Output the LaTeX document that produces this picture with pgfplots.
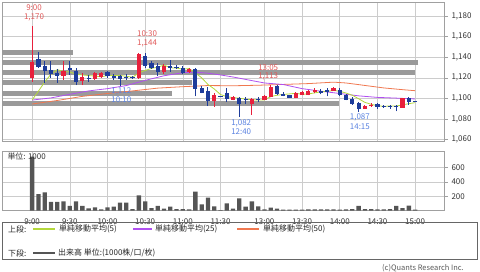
\documentclass[border=0pt]{standalone}
\usepackage{pgfplots}
\pgfplotsset{compat=1.18}
\usepackage{pgfplotstable}
\usepackage{fontspec}
\setmainfont{Noto Sans CJK JP}
\definecolor{cUp}{HTML}{E8203C}
\definecolor{cDn}{HTML}{1E3C9A}
\definecolor{cProf}{HTML}{9A9A9A}
\definecolor{cGrid}{HTML}{CCCCCC}
\definecolor{cAxis}{HTML}{A0A0A0}
\definecolor{cMA5}{HTML}{B4D83C}
\definecolor{cMA25}{HTML}{B050F0}
\definecolor{cMA50}{HTML}{F07850}
\definecolor{cVol}{HTML}{555555}
\definecolor{cLblR}{HTML}{E05858}
\definecolor{cLblB}{HTML}{5A82E0}
\newcommand\fs{\fontsize{8}{9.5}\selectfont}

% up (red) candles
\pgfplotstableread{
i o h l c
0 1120 1170 1116 1135.5
5 1122 1136 1118 1127
8 1117 1125 1113 1120.5
10 1119.5 1125.5 1118 1124.5
11 1121.7 1126 1120 1125
17 1120 1144 1119 1143
21 1126 1133 1124 1131
25 1126 1130 1125 1129
29 1098 1105 1092 1103
32 1099 1102 1098 1101.5
35 1095 1100 1084 1099
37 1099 1103 1098 1102
38 1102 1113 1101 1111
42 1100.5 1106 1100 1105
43 1103.5 1107 1103 1106
44 1104 1108 1103 1107
45 1106.5 1110 1105 1108
48 1107.5 1111 1107 1110.5
53 1090.5 1094 1090 1093
54 1093 1096 1092 1094
59 1091.5 1100.5 1091 1100
}\upc
% down (blue) candles
\pgfplotstableread{
i o h l c
1 1138 1145 1130 1131
2 1131 1136 1115 1127
3 1128 1136 1120 1124
4 1124.5 1129 1115 1122
6 1129.5 1136 1123 1128.5
7 1127 1130 1113 1116
9 1120 1123 1116 1119
12 1126 1127 1120 1122
13 1121.5 1124 1118 1120.5
14 1121.5 1123 1112 1119.5
15 1121 1124 1118 1120.5
16 1121 1122 1119 1120.5
18 1141 1144 1130 1132
19 1134 1136 1129 1130
20 1131 1134 1122 1126
22 1131 1137 1126 1130
23 1130.5 1132 1129 1130
24 1130 1131 1124 1125
26 1129 1130 1102 1110
27 1110 1112 1105 1106
28 1107 1111 1093 1098
30 1102 1102 1102 1102
31 1105 1110 1097 1099.5
33 1100 1101 1082 1095
34 1099 1101 1095 1098.5
36 1099 1101.5 1097 1098.5
39 1112 1113 1103 1105
40 1104 1106 1102 1103
41 1103 1103.5 1100.5 1101
46 1107 1109 1104 1106
47 1108 1110 1102 1107
49 1108 1110 1102 1103.5
50 1103 1104 1098 1099
51 1099.5 1101 1094 1095.5
52 1096 1097 1087 1090
55 1094.5 1096 1090 1092
56 1093 1094 1091 1092.5
57 1093 1094 1090 1092
58 1093 1094 1087.5 1092.5
60 1100.5 1101 1094 1097.5
61 1097.5 1097.5 1097.5 1097.5
}\dnc
% price-by-volume profile: price bin, right end (slot index)
\pgfplotstableread{
p e
1145 6.5
1135 61.5
1125 61.0
1115 25.5
1105 22.3
1095 48.9
}\prof
\pgfplotstableread{
i v
0 1098.5
1 1107
2 1116
3 1123.5
4 1127.9
5 1126.2
6 1125.7
7 1123.5
8 1122.8
9 1122.2
10 1121.7
11 1121
12 1122.2
13 1122.2
14 1122.3
15 1121.5
16 1120.6
17 1124.8
18 1127.1
19 1129.2
20 1130.3
21 1132.4
22 1129.8
23 1129.4
24 1128.4
25 1129
26 1124.8
27 1120
28 1113.6
29 1109.2
30 1103.8
31 1101.7
32 1100.8
33 1100.2
34 1099.3
35 1098.7
36 1098.5
37 1098.6
38 1101.8
39 1103.1
40 1103.9
41 1104.4
42 1105
43 1104
44 1104.4
45 1105.4
46 1106.4
47 1106.8
48 1107.7
49 1107
50 1105.2
51 1103.1
52 1099.7
53 1096.2
54 1094.3
55 1092.9
56 1092.3
57 1092.7
58 1092.6
59 1093.8
60 1094.9
61 1095.9
}\maV
\pgfplotstableread{
i v
0 1098.4
3 1100.5
6 1104
9 1107.3
12 1109.5
15 1112.5
18 1117.5
21 1122
24 1125
26 1125.5
28 1124.5
30 1122.8
32 1120.8
35 1117.3
37 1115
40 1113.5
43 1109.5
46 1107
49 1104.8
52 1102.5
55 1101
58 1100.3
61 1099.5
}\maXXV
\pgfplotstableread{
i v
0 1094.6
4 1098
8 1102
12 1104.8
16 1107.3
20 1110
24 1111.4
28 1112.5
32 1112.3
36 1112.8
40 1113.6
44 1114.4
48 1115.8
50 1115
53 1112.6
56 1110.2
59 1108.5
61 1107.5
}\maL
\pgfplotstableread{
i v
0 755
1 233
2 257
3 122
4 122
5 131
6 66
7 131
8 66
9 33
10 47
11 19
12 47
13 56
14 112
15 112
16 23
17 215
18 131
19 37
20 66
21 28
22 56
23 23
24 23
25 19
26 266
27 89
28 182
29 61
30 8
31 103
32 28
33 173
34 56
35 131
36 61
37 19
38 42
39 28
40 14
41 14
42 14
43 14
44 19
45 19
46 19
47 19
48 19
49 14
50 19
51 23
52 66
53 23
54 23
55 19
56 19
57 23
58 66
59 37
60 70
61 14
}\vol

\pgfplotsset{
  common/.style={
    anchor=south west, scale only axis, width=442bp,
    xmin=-4.8, xmax=65.6,
    xtick={0,6,12,18,24,30,37,43,49,55,61},
    grid=major, grid style={cGrid, line width=0.6bp},
    axis line style={cAxis, line width=0.8bp},
    xtick style={draw=none},
    ytick style={cAxis, line width=0.6bp},
    tick align=outside, major tick length=4bp,
    ytick pos=right, yticklabel pos=right,
    ticklabel style={font=\fs, color=black!80},
    /pgf/number format/1000 sep={,},
    /pgf/number format/assume math mode=true,
  },
  nomark/.style={only marks, mark=text, text mark={}, forget plot},
  wick/.style={nomark,
    error bars/y dir=plus, error bars/y explicit, error bars/error mark=none,
    error bars/error bar style={line width=1bp, color=#1}},
  body/.style={only marks, mark=-, mark size=2.1bp, color=#1, mark options={line width=1bp}, forget plot,
    error bars/y dir=plus, error bars/y explicit, error bars/error mark=none,
    error bars/error bar style={line width=4.2bp, color=#1}},
}

\begin{document}
\begin{tikzpicture}[font=\fs]
\useasboundingbox (0,0) rectangle (480bp,272bp);
\begin{axis}[common, at={(2bp,130.3bp)}, height=139.7bp,
  ymin=1058, ymax=1193.6, ytick={1060,1080,...,1180}, xticklabels={}]
% volume-by-price profile
\addplot[nomark,
  error bars/x dir=minus, error bars/x explicit, error bars/error mark=none,
  error bars/error bar style={line width=5bp, color=cProf}]
  table[x=e, y=p, x error expr={\thisrow{e}+4.8}] {\prof};
% moving averages
\addplot[cMA50, line width=0.8bp, mark=none] table[x=i, y=v] {\maL};
\addplot[cMA25, line width=0.8bp, mark=none] table[x=i, y=v] {\maXXV};
\addplot[cMA5, line width=0.8bp, mark=none] table[x=i, y=v] {\maV};
% candles
\addplot[wick=cUp] table[x=i, y=l, y error expr={\thisrow{h}-\thisrow{l}}] {\upc};
\addplot[body=cUp] table[x=i, y=o, y error expr={\thisrow{c}-\thisrow{o}}] {\upc};
\addplot[wick=cDn] table[x=i, y=l, y error expr={\thisrow{h}-\thisrow{l}}] {\dnc};
\addplot[body=cDn] table[x=i, y=c, y error expr={\thisrow{o}-\thisrow{c}}] {\dnc};
% high / low annotations
\node[cLblR] at (axis cs:0.3,1187.7) {9:00};
\node[cLblR] at (axis cs:0.3,1179) {1,170};
\node[cLblR] at (axis cs:18.3,1163) {10:30};
\node[cLblR] at (axis cs:18.3,1153.8) {1,144};
\node[cLblR] at (axis cs:37.6,1130) {13:05};
\node[cLblR] at (axis cs:37.6,1121.3) {1,113};
\node[cLblB] at (axis cs:14.2,1107.2) {1,112};
\node[cLblB] at (axis cs:14.2,1098.4) {10:10};
\node[cLblB] at (axis cs:33.3,1076) {1,082};
\node[cLblB] at (axis cs:33.3,1067.4) {12:40};
\node[cLblB] at (axis cs:52.2,1081.5) {1,087};
\node[cLblB] at (axis cs:52.2,1072.2) {14:15};
\end{axis}
\begin{axis}[common, at={(2bp,61.3bp)}, height=59bp,
  ymin=0, ymax=825, ytick={200,400,600},
  xticklabels={9:00,9:30,10:00,10:30,11:00,11:30,13:00,13:30,14:00,14:30,15:00}]
\addplot[ybar, bar width=4.3bp, fill=cVol, draw=none] table[x=i, y=v] {\vol};
\node[anchor=west, inner sep=0pt, color=black!80] at (rel axis cs:0.012,0.92) {単位: 1000};
\end{axis}
% legend box
\draw[black!60, line width=0.8bp] (2.5bp,12.5bp) rectangle (477.5bp,50bp);
\begin{scope}[every node/.style={anchor=west, inner sep=0pt, color=black!85}]
\node at (8bp,43bp) {上段:};
\draw[cMA5, line width=1.6bp] (33bp,43bp) -- (55bp,43bp);
\node at (59bp,43bp) {単純移動平均(5)};
\draw[cMA25, line width=1.6bp] (133bp,43bp) -- (152bp,43bp);
\node at (155bp,43bp) {単純移動平均(25)};
\draw[cMA50, line width=1.6bp] (237bp,43bp) -- (259bp,43bp);
\node at (263bp,43bp) {単純移動平均(50)};
\node at (8bp,19bp) {下段:};
\draw[cVol, line width=1.6bp] (33bp,19bp) -- (55bp,19bp);
\node at (58bp,19bp) {出来高 単位:(1000株/口/枚)};
\end{scope}
\node[anchor=east, inner sep=0pt, color=black!65, font=\fontsize{7.5}{9}\selectfont] at (464bp,4bp) {(c)Quants Research Inc.};
\end{tikzpicture}
\end{document}
